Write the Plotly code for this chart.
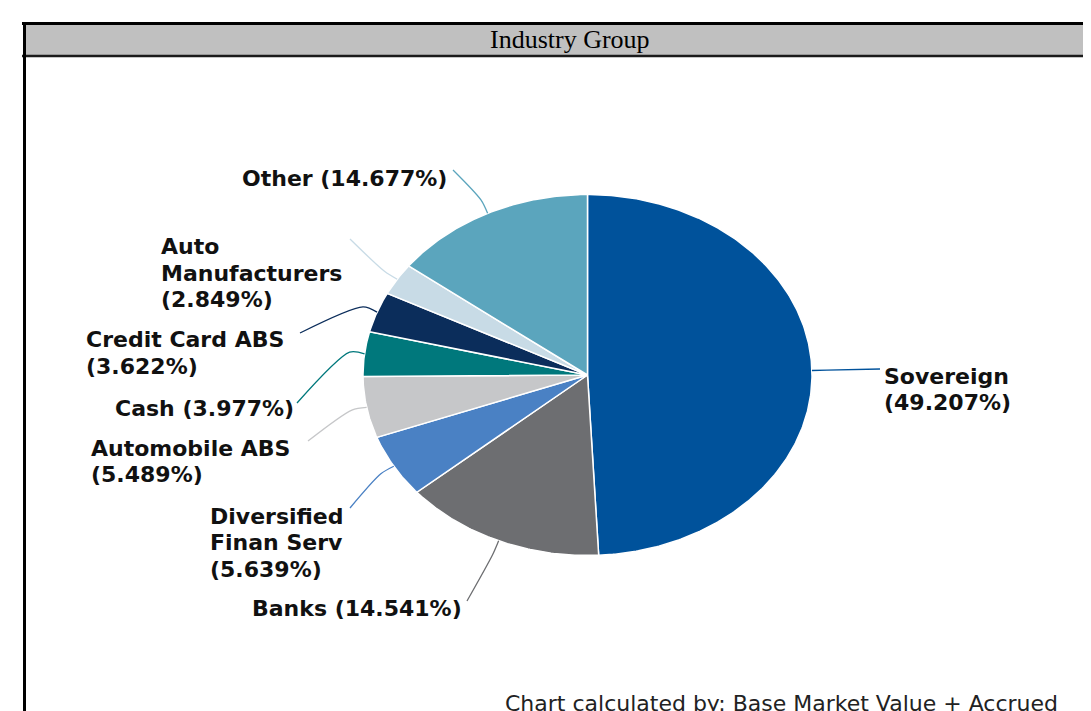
import numpy as np
import plotly.graph_objects as go

# ---------------- data ----------------
categories = ["Sovereign", "Banks", "Diversified Finan Serv", "Automobile ABS",
              "Cash", "Credit Card ABS", "Auto Manufacturers", "Other"]
values = [49.207, 14.541, 5.639, 5.489, 3.977, 3.622, 2.849, 14.677]
label_lines = [["Sovereign"], ["Banks"], ["Diversified", "Finan Serv"], ["Automobile ABS"],
               ["Cash"], ["Credit Card ABS"], ["Auto", "Manufacturers"], ["Other"]]
pct_on_new_line = [True, False, True, True, False, True, True, False]
colors = ["#00529b", "#6d6e71", "#4a81c4", "#c6c7c9",
          "#00787c", "#0b2d5b", "#c8dbe6", "#5ba5bd"]

title_text = "Industry Group"
footer_text = "Chart calculated by: Base Market Value + Accrued"

# ---------------- layout constants (pixels) ----------------
W, H = 1091, 711
OFF = 8  # page body margin
cx, cy, rx, ry = 587.5, 375.0, 224.5, 180.5
LINE_H = 26.5
# label placement: x, y (centre), xanchor, connector end point
label_pos = {
    "Sovereign":              (882, 389.5, "left",  (880, 369)),
    "Banks":                  (464, 608.5, "right", (467, 601)),
    "Diversified Finan Serv": (208, 542.5, "left",  (350, 508)),
    "Automobile ABS":         (89,  461.5, "left",  (308, 441)),
    "Cash":                   (296, 408.0, "right", (297, 403)),
    "Credit Card ABS":        (84,  353.0, "left",  (300, 333)),
    "Auto Manufacturers":     (159, 273.0, "left",  (350, 239)),
    "Other":                  (449, 178.0, "right", (453, 170)),
}

fig = go.Figure()

total = sum(values)
cum = 0.0
for i, (cat, v, col) in enumerate(zip(categories, values, colors)):
    a0 = cum / total * 2 * np.pi
    a1 = (cum + v) / total * 2 * np.pi
    cum += v
    n = max(8, int(v * 6))
    t = np.linspace(a0, a1, n)
    xs = np.concatenate([[cx], cx + rx * np.sin(t), [cx]])
    ys = np.concatenate([[cy], cy - ry * np.cos(t), [cy]])
    fig.add_trace(go.Scatter(x=xs, y=ys, mode="lines", fill="toself",
                             fillcolor=col, line=dict(color="white", width=1.5),
                             name=cat, hoverinfo="name", showlegend=False))
    # connector
    am = (a0 + a1) / 2
    px, py = cx + rx * np.sin(am), cy - ry * np.cos(am)
    ex, ey = px + 15 * np.sin(am), py - 15 * np.cos(am)
    lx, ly, xa, (qx, qy) = label_pos[cat]
    fig.add_trace(go.Scatter(x=[px, ex, qx], y=[py, ey, qy], mode="lines",
                             line=dict(color=col, width=1.3, shape="spline", smoothing=0.8),
                             hoverinfo="skip", showlegend=False))
    lines = list(label_lines[i])
    pct = f"({v:.3f}%)"
    if pct_on_new_line[i]:
        lines.append(pct)
    else:
        lines[-1] = lines[-1] + " " + pct
    nl = len(lines)
    for k, ln in enumerate(lines):
        fig.add_annotation(x=lx, y=ly + (k - (nl - 1) / 2) * LINE_H, xref="x", yref="y",
                           text=ln, showarrow=False, xanchor=xa, yanchor="middle",
                           font=dict(family="DejaVu Sans", size=22, color="#111111",
                                     weight="bold"))

# header band and frame
fig.add_shape(type="rect", x0=23, x1=1130, y0=23, y1=56, xref="x", yref="y",
              fillcolor="#c0c0c0", line=dict(width=0), layer="below")
fig.add_shape(type="line", x0=22, x1=1130, y0=23.5, y1=23.5, xref="x", yref="y",
              line=dict(color="black", width=3))
fig.add_shape(type="line", x0=22, x1=1130, y0=56, y1=56, xref="x", yref="y",
              line=dict(color="#1a1a1a", width=2.5))
fig.add_shape(type="line", x0=24.5, x1=24.5, y0=22, y1=730, xref="x", yref="y",
              line=dict(color="black", width=3))

fig.add_annotation(x=570, y=39.5, xref="x", yref="y", text=title_text, showarrow=False,
                   xanchor="center", yanchor="middle",
                   font=dict(family="Liberation Serif", size=26, color="black"))
fig.add_annotation(x=503, y=703, xref="x", yref="y", text=footer_text, showarrow=False,
                   xanchor="left", yanchor="middle",
                   font=dict(family="DejaVu Sans", size=22, color="#222222"))

fig.update_layout(
    width=W, height=H, autosize=False,
    margin=dict(l=0, r=0, t=0, b=0),
    paper_bgcolor="white", plot_bgcolor="white",
    xaxis=dict(range=[OFF, W + OFF], visible=False, fixedrange=True),
    yaxis=dict(range=[H + OFF, OFF], visible=False, fixedrange=True),
    showlegend=False,
)

fig.write_html("out.html")
